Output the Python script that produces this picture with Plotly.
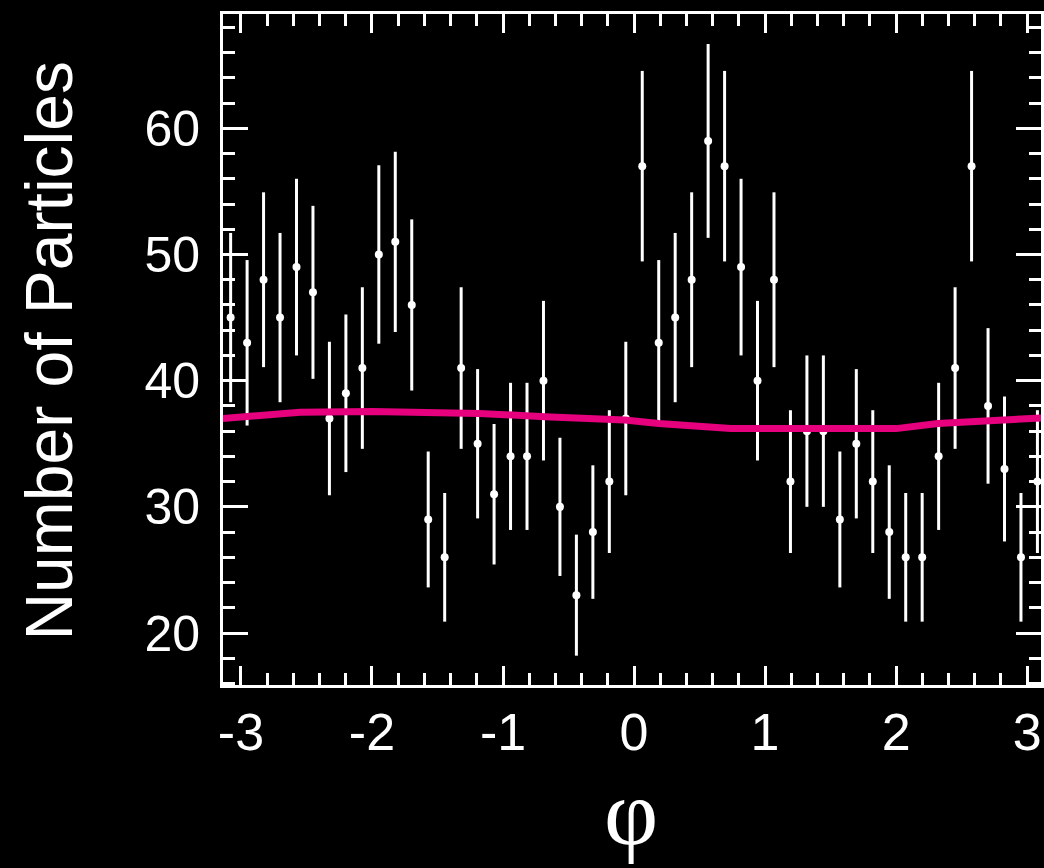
import math
import plotly.graph_objects as go

# ---- data ----
n_bins = 50
phi_min, phi_max = -math.pi, math.pi
counts = [45, 43, 48, 45, 49, 47, 37, 39, 41, 50,
          51, 46, 29, 26, 41, 35, 31, 34, 34, 40,
          30, 23, 28, 32, 37, 57, 43, 45, 48, 59,
          57, 49, 40, 48, 32, 36, 36, 29, 35, 32,
          28, 26, 26, 34, 41, 57, 38, 33, 26, 32]

fit_phi = [-3.14, -2.9, -2.55, -2.0, -1.5, -1.18, -0.68, -0.07, 0.19, 0.5,
           0.74, 1.1, 1.5, 1.84, 2.0, 2.32, 2.7, 3.11]
fit_val = [37.0, 37.2, 37.5, 37.55, 37.5, 37.4, 37.15, 36.88, 36.6, 36.35,
           36.2, 36.2, 36.15, 36.1, 36.2, 36.6, 36.8, 37.05]

x_ticks = [-3, -2, -1, 0, 1, 2, 3]
y_ticks = [20, 30, 40, 50, 60]

width = (phi_max - phi_min) / n_bins
centers = [phi_min + (i + 0.5) * width for i in range(n_bins)]
errors = [math.sqrt(c) for c in counts]

WHITE = "white"
PINK = "#E6007E"

fig = go.Figure()
fig.add_trace(go.Scatter(
    x=centers, y=counts, mode="markers",
    marker=dict(color=WHITE, size=8),
    error_y=dict(type="data", array=errors, visible=True,
                 color=WHITE, thickness=3, width=0),
    showlegend=False,
))
fig.add_trace(go.Scatter(
    x=fit_phi, y=fit_val, mode="lines",
    line=dict(color=PINK, width=7),
    showlegend=False,
))

fig.update_layout(
    width=1044, height=868,
    paper_bgcolor="black", plot_bgcolor="black",
    margin=dict(l=223, r=0, t=14, b=183),
    font=dict(family="Liberation Sans, Arial, sans-serif", color=WHITE),
    annotations=[
        dict(text="Number of Particles", textangle=-90,
             xref="paper", yref="paper", x=-0.213, y=0.498,
             xanchor="center", yanchor="middle", showarrow=False,
             font=dict(size=66, color=WHITE)),
        dict(text="φ", xref="x", yref="paper", x=-0.02, y=-0.19,
             xanchor="center", yanchor="middle", showarrow=False,
             font=dict(family="Liberation Serif, Times New Roman, serif",
                       size=94, color=WHITE)),
    ],
)
fig.update_xaxes(
    range=[-3.137, 3.106],
    tickvals=x_ticks, ticktext=[str(v) for v in x_ticks],
    ticks="inside", ticklen=19, tickwidth=3, tickcolor=WHITE,
    minor=dict(ticks="inside", ticklen=12, tickwidth=3, tickcolor=WHITE,
               dtick=0.2, tick0=0, showgrid=False),
    showline=True, linewidth=3, linecolor=WHITE, mirror="ticks",
    showgrid=False, zeroline=False,
    tickfont=dict(size=52, color=WHITE),
)
fig.update_yaxes(
    range=[15.88, 69.06],
    tickvals=y_ticks, ticktext=[str(v) for v in y_ticks],
    ticks="inside", ticklen=25, tickwidth=3, tickcolor=WHITE,
    minor=dict(ticks="inside", ticklen=12, tickwidth=3, tickcolor=WHITE,
               dtick=2, tick0=0, showgrid=False),
    showline=True, linewidth=3, linecolor=WHITE, mirror="ticks",
    showgrid=False, zeroline=False,
    tickfont=dict(size=50, color=WHITE),
    ticklabelstandoff=10,
)

fig.write_html(
    "out.html",
    config={"displayModeBar": False},
    post_script="document.body.style.margin='0';"
                "document.body.style.background='black';"
                "document.documentElement.style.background='black';",
)
